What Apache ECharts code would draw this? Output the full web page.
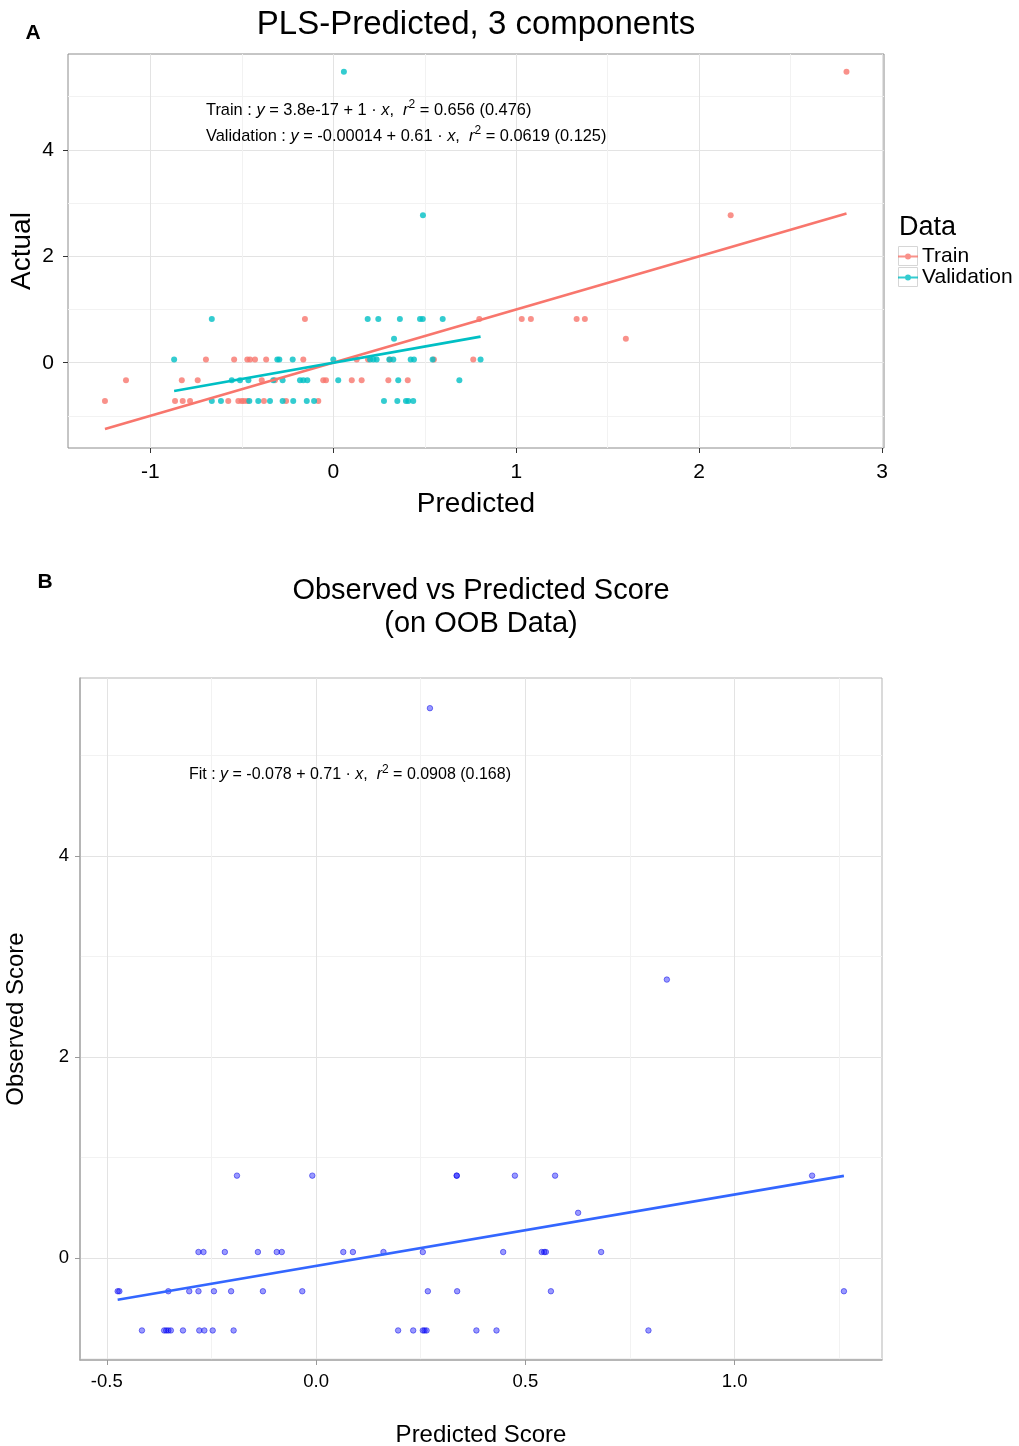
<!DOCTYPE html>
<html>
<head>
<meta charset="utf-8">
<title>PLS predictions</title>
<script src="https://cdn.jsdelivr.net/npm/echarts@6/dist/echarts.min.js"></script>
<style>
  html, body { margin: 0; padding: 0; background: #ffffff; }
  #chart { width: 1019px; height: 1446px; }
</style>
</head>
<body>
<div id="chart"></div>
<script>
// ---- Panel A: PLS model, 3 components ----
const trainX = [2.805, 2.172,
  -0.155, 0.798, 1.030, 1.080, 1.330, 1.375,
  1.599,
  -0.696, -0.542, -0.470, -0.455, -0.428, -0.367, -0.164, 0.128, 0.190, 0.310, 0.550, 0.765,
  -1.133, -0.828, -0.741, -0.391, -0.319, -0.055, -0.040, 0.101, 0.155, 0.301, 0.407,
  -1.248, -0.865, -0.823, -0.783, -0.574, -0.519, -0.501, -0.488, -0.470, -0.379, -0.258, -0.082];
const trainY = [5.47, 2.77,
  0.82, 0.82, 0.82, 0.82, 0.82, 0.82,
  0.45,
  0.06, 0.06, 0.06, 0.06, 0.06, 0.06, 0.06, 0.06, 0.06, 0.06, 0.06, 0.06,
  -0.33, -0.33, -0.33, -0.33, -0.33, -0.33, -0.33, -0.33, -0.33, -0.33, -0.33,
  -0.72, -0.72, -0.72, -0.72, -0.72, -0.72, -0.72, -0.72, -0.72, -0.72, -0.72, -0.72];

const validX = [0.058, 0.490,
  -0.664, 0.188, 0.246, 0.364, 0.474, 0.489, 0.598,
  0.332,
  -0.870, -0.306, -0.295, -0.222, 0.000, 0.201, 0.219, 0.237, 0.306, 0.328, 0.423, 0.441, 0.543, 0.805,
  -0.555, -0.510, -0.464, -0.328, -0.277, -0.182, -0.164, -0.142, 0.027, 0.355, 0.689,
  -0.664, -0.614, -0.459, -0.410, -0.346, -0.277, -0.219, -0.145, -0.105, 0.277, 0.350, 0.397, 0.410, 0.437];
const validY = [5.47, 2.77,
  0.82, 0.82, 0.82, 0.82, 0.82, 0.82, 0.82,
  0.45,
  0.06, 0.06, 0.06, 0.06, 0.06, 0.06, 0.06, 0.06, 0.06, 0.06, 0.06, 0.06, 0.06, 0.06,
  -0.33, -0.33, -0.33, -0.33, -0.33, -0.33, -0.33, -0.33, -0.33, -0.33, -0.33,
  -0.72, -0.72, -0.72, -0.72, -0.72, -0.72, -0.72, -0.72, -0.72, -0.72, -0.72, -0.72, -0.72, -0.72];

// regression summaries as printed: [intercept, slope, r2, adjusted]
const trainFit = ['3.8e-17', '1', '0.656', '0.476'];
const validFit = ['-0.00014', '0.61', '0.0619', '0.125'];

// ---- Panel B: out-of-bag predictions ----
const oobX = [0.272, 0.838,
  -0.189, -0.009, 0.336, 0.336, 0.475, 0.571, 1.185,
  0.626,
  -0.281, -0.269, -0.218, -0.139, -0.094, -0.082, 0.065, 0.088, 0.161, 0.255, 0.447, 0.539, 0.545, 0.549, 0.681,
  -0.474, -0.470, -0.353, -0.303, -0.281, -0.244, -0.203, -0.127, -0.033, 0.267, 0.337, 0.561, 1.261,
  -0.416, -0.363, -0.358, -0.353, -0.347, -0.318, -0.279, -0.267, -0.247, -0.197, 0.196, 0.232, 0.255, 0.259, 0.264, 0.383, 0.431, 0.794];
const oobY = [5.47, 2.77,
  0.82, 0.82, 0.82, 0.82, 0.82, 0.82, 0.82,
  0.45,
  0.06, 0.06, 0.06, 0.06, 0.06, 0.06, 0.06, 0.06, 0.06, 0.06, 0.06, 0.06, 0.06, 0.06, 0.06,
  -0.33, -0.33, -0.33, -0.33, -0.33, -0.33, -0.33, -0.33, -0.33, -0.33, -0.33, -0.33, -0.33,
  -0.72, -0.72, -0.72, -0.72, -0.72, -0.72, -0.72, -0.72, -0.72, -0.72, -0.72, -0.72, -0.72, -0.72, -0.72, -0.72, -0.72, -0.72];
const oobFit = ['-0.078', '0.71', '0.0908', '0.168'];

// tick values
const aXMajor = [-1, 0, 1, 2, 3];
const aXMinor = [-0.5, 0.5, 1.5, 2.5];
const aYMajor = [0, 2, 4];
const aYMinor = [-1, 1, 3, 5];
const bXMajor = [-0.5, 0, 0.5, 1.0];
const bXMinor = [-0.25, 0.25, 0.75, 1.25];
const bYMajor = [0, 2, 4];
const bYMinor = [-1, 1, 3, 5];

const FONT = 'Liberation Sans, Arial, sans-serif';
const RED = '#F8766D', CYAN = '#00BFC4', BLUE = '#3366FF';

const zip = (xs, ys) => xs.map((x, i) => [x, ys[i]]);
function fitLine(xs, fit) {
  const a = parseFloat(fit[0]), b = parseFloat(fit[1]);
  const lo = Math.min(...xs), hi = Math.max(...xs);
  return [[lo, a + b * lo], [hi, a + b * hi]];
}
function eqRich(label, fit) {
  return '{n|' + label + ' : }{i|y}{n| = ' + fit[0] + ' + ' + fit[1] + ' · }{i|x}{n|,  }{i|r}{s|2}{n| = ' +
    fit[2] + ' (' + fit[3] + ')}';
}
function eqStyles(size) {
  return {
    n: { fontFamily: FONT, fontSize: size, color: '#1a1a1a', lineHeight: 22 },
    i: { fontFamily: FONT, fontSize: size, fontStyle: 'italic', color: '#1a1a1a', lineHeight: 22 },
    s: { fontFamily: FONT, fontSize: 12, color: '#1a1a1a', lineHeight: 12, verticalAlign: 'top' }
  };
}

// hidden helper axes carry the faint minor grid lines
function minorAxis(grid, pos, min, max, vals) {
  return {
    type: 'value', gridIndex: grid, position: pos, min: min, max: max,
    axisLine: { show: false, onZero: false },
    axisTick: { show: false, customValues: vals },
    axisLabel: { show: false, customValues: vals },
    splitLine: { show: true, lineStyle: { color: '#f2f2f2', width: 1 } }
  };
}
function majorAxis(grid, pos, min, max, vals, opts) {
  return {
    type: 'value', gridIndex: grid, position: pos, min: min, max: max,
    axisLine: opts.axisLine || { show: false, onZero: false },
    axisTick: { show: true, length: 5, customValues: vals, lineStyle: { color: opts.tickColor, width: 1 } },
    axisLabel: {
      customValues: vals, color: '#000', fontFamily: FONT, fontSize: opts.fontSize,
      margin: opts.margin, formatter: opts.formatter
    },
    splitLine: { show: true, lineStyle: { color: '#e3e3e3', width: 1 } },
    name: opts.name, nameGap: opts.nameGap, nameMoveOverlap: opts.moveOverlap !== false,
    nameLocation: 'middle',
    nameTextStyle: { color: '#000', fontFamily: FONT, fontSize: opts.nameSize }
  };
}
const bAxisLine = { show: true, onZero: false, lineStyle: { color: '#aaaaaa', width: 1.5 } };

const chart = echarts.init(document.getElementById('chart'), null, { renderer: 'canvas' });

const option = {
  animation: false,
  backgroundColor: '#ffffff',
  grid: [
    { left: 68, top: 54, width: 816, height: 394, show: true, borderColor: '#8c8c8c', borderWidth: 1,
      backgroundColor: 'transparent', outerBoundsMode: 'none' },
    { left: 80, top: 678, width: 802, height: 682, show: true, borderColor: '#b5b5b5', borderWidth: 1,
      backgroundColor: 'transparent', outerBoundsMode: 'none' }
  ],
  xAxis: [
    minorAxis(0, 'bottom', -1.45, 3.01, aXMinor),
    majorAxis(0, 'bottom', -1.45, 3.01, aXMajor, {
      tickColor: '#333', fontSize: 21, margin: 14, nameSize: 28, name: 'Predicted', nameGap: 42
    }),
    minorAxis(1, 'bottom', -0.564, 1.352, bXMinor),
    majorAxis(1, 'bottom', -0.564, 1.352, bXMajor, {
      tickColor: '#999', fontSize: 18.5, margin: 12, nameSize: 24,
      formatter: v => Number(v).toFixed(1), name: 'Predicted Score', nameGap: 63, axisLine: bAxisLine
    })
  ],
  yAxis: [
    minorAxis(0, 'left', -1.603, 5.803, aYMinor),
    majorAxis(0, 'left', -1.603, 5.803, aYMajor, {
      tickColor: '#333', fontSize: 21, margin: 14, nameSize: 28, name: 'Actual', nameGap: 32,
      moveOverlap: false
    }),
    minorAxis(1, 'left', -1.014, 5.77, bYMinor),
    majorAxis(1, 'left', -1.014, 5.77, bYMajor, {
      tickColor: '#999', fontSize: 18.5, margin: 11, nameSize: 24, name: 'Observed Score', nameGap: 52,
      axisLine: bAxisLine
    })
  ],
  legend: {
    orient: 'vertical', left: 898, top: 246, padding: 0, itemGap: 0,
    itemWidth: 20, itemHeight: 6, selectedMode: false,
    textStyle: { color: '#000', fontFamily: FONT, fontSize: 21, lineHeight: 21, padding: [0, 0, 0, -1] },
    data: [
      { name: 'Train', icon: 'path://M0,2 L20,2 L20,4 L0,4 Z M10,0 A3,3 0 1 1 9.99,0 Z' },
      { name: 'Validation', icon: 'path://M0,2 L20,2 L20,4 L0,4 Z M10,0 A3,3 0 1 1 9.99,0 Z' }
    ]
  },
  series: [
    { name: 'Train', type: 'scatter', xAxisIndex: 1, yAxisIndex: 1, symbolSize: 6,
      itemStyle: { color: RED }, data: zip(trainX, trainY), silent: true },
    { name: 'Validation', type: 'scatter', xAxisIndex: 1, yAxisIndex: 1, symbolSize: 6,
      itemStyle: { color: CYAN }, data: zip(validX, validY), silent: true },
    { name: 'Train', type: 'line', xAxisIndex: 1, yAxisIndex: 1, symbol: 'none',
      lineStyle: { color: RED, width: 2.6 }, itemStyle: { color: RED }, data: fitLine(trainX, trainFit), silent: true },
    { name: 'Validation', type: 'line', xAxisIndex: 1, yAxisIndex: 1, symbol: 'none',
      lineStyle: { color: CYAN, width: 2.6 }, itemStyle: { color: CYAN }, data: fitLine(validX, validFit), silent: true },
    { name: 'OOB', type: 'scatter', xAxisIndex: 3, yAxisIndex: 3, symbolSize: 5.5,
      itemStyle: { color: 'rgba(0,0,255,0.5)', borderColor: 'rgba(0,0,230,0.75)', borderWidth: 0.8 },
      data: zip(oobX, oobY), silent: true },
    { name: 'OOB fit', type: 'line', xAxisIndex: 3, yAxisIndex: 3, symbol: 'none',
      lineStyle: { color: BLUE, width: 2.6 }, data: fitLine(oobX, oobFit), silent: true }
  ],
  graphic: [
    { type: 'text', z: 100, x: 33, y: 33, style: { text: 'A', fontFamily: FONT, fontWeight: 'bold', fontSize: 21,
        fill: '#000', align: 'center', verticalAlign: 'middle' } },
    { type: 'text', z: 100, x: 476, y: 25, style: { text: 'PLS-Predicted, 3 components', fontFamily: FONT, fontSize: 33,
        fill: '#000', align: 'center', verticalAlign: 'middle' } },
    { type: 'text', z: 100, x: 206, y: 110, style: { text: eqRich('Train', trainFit), rich: eqStyles(16.4),
        align: 'left', verticalAlign: 'middle' } },
    { type: 'text', z: 100, x: 206, y: 136, style: { text: eqRich('Validation', validFit), rich: eqStyles(16.4),
        align: 'left', verticalAlign: 'middle' } },
    { type: 'text', z: 100, x: 899, y: 228, style: { text: 'Data', fontFamily: FONT, fontSize: 27,
        fill: '#000', align: 'left', verticalAlign: 'middle' } },
    { type: 'rect', shape: { x: 898.5, y: 246.5, width: 19, height: 19 }, z: -1,
      style: { fill: '#fff', stroke: '#d6d6d6', lineWidth: 1 } },
    { type: 'rect', shape: { x: 898.5, y: 267.5, width: 19, height: 19 }, z: -1,
      style: { fill: '#fff', stroke: '#d6d6d6', lineWidth: 1 } },
    { type: 'text', z: 100, x: 45, y: 582, style: { text: 'B', fontFamily: FONT, fontWeight: 'bold', fontSize: 21,
        fill: '#000', align: 'center', verticalAlign: 'middle' } },
    { type: 'text', z: 100, x: 481, y: 591, style: { text: 'Observed vs Predicted Score', fontFamily: FONT, fontSize: 29,
        fill: '#000', align: 'center', verticalAlign: 'middle' } },
    { type: 'text', z: 100, x: 481, y: 624, style: { text: '(on OOB Data)', fontFamily: FONT, fontSize: 29,
        fill: '#000', align: 'center', verticalAlign: 'middle' } },
    { type: 'text', z: 100, x: 189, y: 775, style: { text: eqRich('Fit', oobFit), rich: eqStyles(16),
        align: 'left', verticalAlign: 'middle' } }
  ]
};

chart.setOption(option);
</script>
</body>
</html>
